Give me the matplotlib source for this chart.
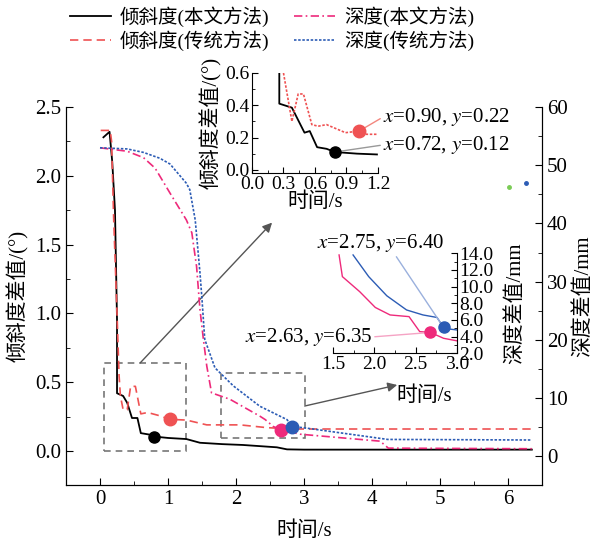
import matplotlib
matplotlib.use('Agg')
import matplotlib.pyplot as plt
from matplotlib.patches import Rectangle
from matplotlib.ticker import MultipleLocator, FormatStrFormatter

plt.rcParams['font.family'] = ['Liberation Serif', 'Noto Sans CJK SC', 'DejaVu Sans']
plt.rcParams['mathtext.fontset'] = 'stix'
plt.rcParams['axes.unicode_minus'] = False
plt.rcParams['font.size'] = 14

# 主图数据：倾斜度（左轴）
t_black = [0.05, 0.14, 0.18, 0.22, 0.25, 0.25, 0.34, 0.40, 0.47, 0.55, 0.60, 0.72, 0.80,
           1.00, 1.27, 1.47, 1.80, 2.10, 2.60, 2.75, 3.00, 6.35]
v_black = [2.28, 2.32, 2.10, 1.75, 0.95, 0.42, 0.40, 0.35, 0.24, 0.24, 0.13, 0.12, 0.105,
           0.095, 0.087, 0.06, 0.05, 0.044, 0.027, 0.012, 0.01, 0.01]
t_red = [0.01, 0.15, 0.17, 0.20, 0.25, 0.28, 0.30, 0.34, 0.40, 0.45, 0.52, 0.60, 0.70,
         0.85, 1.03, 1.27, 1.57, 2.06, 2.45, 2.84, 6.35]
v_red = [2.33, 2.33, 2.25, 1.70, 1.00, 0.55, 0.40, 0.30, 0.30, 0.47, 0.47, 0.27, 0.28,
         0.26, 0.23, 0.225, 0.19, 0.19, 0.17, 0.16, 0.16]

# 主图数据：深度（右轴）
t_pink = [0.0, 0.40, 0.64, 0.81, 1.03, 1.27, 1.35, 1.42, 1.47, 1.52, 1.57, 1.64, 1.91,
          2.35, 2.43, 2.55, 2.66, 2.94, 4.12, 4.24, 6.35]
v_pink = [53.0, 52.4, 51.3, 49.5, 45.2, 40.6, 38.4, 32.6, 25.2, 20.1, 15.5, 10.9, 9.8,
          6.9, 6.3, 5.1, 4.6, 3.8, 2.6, 1.4, 1.3]
t_blue = [0.0, 0.40, 0.64, 0.88, 1.03, 1.27, 1.32, 1.40, 1.47, 1.50, 1.54, 1.69, 1.96,
          2.35, 2.75, 2.83, 3.0, 4.23, 6.35]
v_blue = [53.0, 52.8, 52.2, 51.2, 50.2, 46.9, 45.8, 40.6, 31.5, 26.9, 20.1, 15.2, 12.1,
          8.6, 6.3, 5.1, 4.9, 2.9, 2.8]

# 标记点
mk_black = (0.80, 0.105)
mk_red = (1.03, 0.23)
mk_pink = (2.66, 4.6)
mk_blue = (2.83, 5.1)

# 局部放大图1（倾斜度）
t1_black = [0.26, 0.26, 0.38, 0.50, 0.55, 0.62, 0.71, 0.79, 1.00, 1.19]
v1_black = [0.60, 0.41, 0.385, 0.23, 0.24, 0.14, 0.13, 0.11, 0.10, 0.095]
t1_red = [0.30, 0.38, 0.44, 0.49, 0.57, 0.63, 0.71, 0.89, 1.02, 1.09, 1.19]
v1_red = [0.60, 0.30, 0.47, 0.47, 0.28, 0.27, 0.28, 0.23, 0.24, 0.22, 0.22]

# 局部放大图2（深度）
t2_pink = [1.57, 1.61, 1.82, 2.01, 2.19, 2.42, 2.55, 2.68, 2.84, 3.0]
v2_pink = [13.8, 11.2, 9.4, 7.5, 6.6, 6.4, 4.6, 4.5, 3.8, 3.5]
t2_blue = [1.74, 1.93, 2.15, 2.39, 2.59, 2.76, 2.84, 2.92, 3.0]
v2_blue = [13.8, 11.2, 8.9, 7.2, 6.6, 6.3, 5.1, 4.9, 4.8]

c_black = '#000000'
c_red = '#EF5253'
c_pink = '#EE2A7B'
c_blue = '#2C5CB5'

fig = plt.figure(figsize=(5.98, 5.48), dpi=100)
ax = fig.add_axes([0.1104, 0.1142, 0.796, 0.6905])
ax2 = ax.twinx()

l1, = ax.plot(t_black, v_black, color=c_black, lw=1.3, label='倾斜度(本文方法)')
l2, = ax.plot(t_red, v_red, color=c_red, lw=1.2, ls=(0, (5, 3)), label='倾斜度(传统方法)')
l3, = ax2.plot(t_pink, v_pink, color=c_pink, lw=1.2, ls=(0, (5, 2, 1, 2)), label='深度(本文方法)')
l4, = ax2.plot(t_blue, v_blue, color=c_blue, lw=1.2, ls=(0, (1.5, 1)), label='深度(传统方法)')

ax.plot(*mk_black, 'o', color=c_black, ms=8, zorder=5)
ax.plot(*mk_red, 'o', color=c_red, ms=9, zorder=5)
ax2.plot(*mk_pink, 'o', color=c_pink, ms=9, zorder=5)
ax2.plot(*mk_blue, 'o', color=c_blue, ms=9, zorder=5)
ax2.plot(6.01, 46.3, 'o', color='#7ACC55', ms=2.5)
ax2.plot(6.26, 46.9, 'o', color=c_blue, ms=2.5)

ax.set_xlim(-0.5, 6.5)
ax.set_ylim(-0.25, 2.5)
ax2.set_ylim(-5, 60)
ax.xaxis.set_major_locator(MultipleLocator(1))
ax.xaxis.set_minor_locator(MultipleLocator(0.5))
ax.yaxis.set_major_locator(MultipleLocator(0.5))
ax.yaxis.set_minor_locator(MultipleLocator(0.25))
ax.yaxis.set_major_formatter(FormatStrFormatter('%.1f'))
ax2.yaxis.set_major_locator(MultipleLocator(10))
ax2.yaxis.set_minor_locator(MultipleLocator(5))
for a in (ax, ax2):
    a.spines['top'].set_visible(False)
    a.tick_params(which='both', direction='in', labelsize=15)
    a.tick_params(which='major', length=5)
    a.tick_params(which='minor', length=3)
ax.set_xlabel('时间/s', fontsize=15, labelpad=9)
ax.set_ylabel('倾斜度差值/(°)', fontsize=15)
ax2.set_ylabel('深度差值/mm', fontsize=15)

# 虚线框与箭头
ax.add_patch(Rectangle((0.06, 0.0), 1.20, 0.64, fill=False, ec='#777777', lw=1.2, ls=(0, (4, 3))))
ax.add_patch(Rectangle((1.78, 0.092), 1.23, 0.473, fill=False, ec='#777777', lw=1.2, ls=(0, (4, 3))))
ax.annotate('', xy=(2.53, 1.66), xytext=(0.59, 0.64),
            arrowprops=dict(arrowstyle='-|>', color='#555555', lw=1.0, mutation_scale=14,
                            shrinkA=0, shrinkB=0))
ax.annotate('', xy=(4.37, 0.48), xytext=(3.01, 0.327),
            arrowprops=dict(arrowstyle='-|>', color='#555555', lw=1.0, mutation_scale=14,
                            shrinkA=0, shrinkB=0))

fig.legend(handles=[l1, l2, l3, l4], ncol=2, loc='upper left',
           bbox_to_anchor=(0.117, 0.988), frameon=False, fontsize=14,
           handlelength=2.1, handletextpad=0.45, columnspacing=1.3,
           labelspacing=0.15, borderpad=0, borderaxespad=0)

# 放大图1
ia = fig.add_axes([0.4214, 0.6843, 0.2107, 0.1825], facecolor='none')
ia.plot(t1_black, v1_black, color=c_black, lw=1.3)
ia.plot(t1_red, v1_red, color=c_red, lw=1.2, ls=(0, (1.5, 1)))
ia.plot(0.79, 0.11, 'o', color=c_black, ms=8, zorder=5)
ia.plot(1.02, 0.24, 'o', color=c_red, ms=9, zorder=5)
ia.set_xlim(0, 1.2)
ia.set_ylim(-0.02, 0.6)
ia.xaxis.set_major_locator(MultipleLocator(0.3))
ia.xaxis.set_minor_locator(MultipleLocator(0.15))
ia.yaxis.set_major_locator(MultipleLocator(0.2))
ia.yaxis.set_minor_locator(MultipleLocator(0.1))
ia.xaxis.set_major_formatter(FormatStrFormatter('%.1f'))
ia.yaxis.set_major_formatter(FormatStrFormatter('%.1f'))
ia.spines['top'].set_visible(False)
ia.spines['right'].set_visible(False)
ia.tick_params(which='both', direction='in', labelsize=14, pad=2)
ia.tick_params(which='major', length=4)
ia.tick_params(which='minor', length=2)
ia.set_xlabel('时间/s', fontsize=15, labelpad=0)
ia.set_ylabel('倾斜度差值/(°)', fontsize=15, labelpad=2)
ia.annotate('$x$=0.90, $y$=0.22', xy=(1.02, 0.24), xytext=(1.248, 0.327),
            ha='left', va='center', fontsize=15, annotation_clip=False,
            arrowprops=dict(arrowstyle='-', color='#F3877F', lw=1.0, relpos=(0, 0.5),
                            shrinkA=0, shrinkB=0))
ia.annotate('$x$=0.72, $y$=0.12', xy=(0.79, 0.11), xytext=(1.248, 0.154),
            ha='left', va='center', fontsize=15, annotation_clip=False,
            arrowprops=dict(arrowstyle='-', color='#999999', lw=1.0, relpos=(0, 0.5),
                            shrinkA=0, shrinkB=0))

# 放大图2
ib = fig.add_axes([0.5574, 0.3553, 0.2064, 0.1825], facecolor='none')
ib.plot(t2_pink, v2_pink, color=c_pink, lw=1.0)
ib.plot(t2_blue, v2_blue, color=c_blue, lw=1.0)
ib.plot(2.68, 4.5, 'o', color=c_pink, ms=8, zorder=5)
ib.plot(2.84, 5.1, 'o', color=c_blue, ms=8, zorder=5)
ib.set_xlim(1.5, 3.0)
ib.set_ylim(2, 14)
ib.xaxis.set_major_locator(MultipleLocator(0.5))
ib.xaxis.set_minor_locator(MultipleLocator(0.25))
ib.yaxis.set_major_locator(MultipleLocator(2))
ib.yaxis.set_minor_locator(MultipleLocator(1))
ib.xaxis.set_major_formatter(FormatStrFormatter('%.1f'))
ib.yaxis.set_major_formatter(FormatStrFormatter('%.1f'))
ib.yaxis.tick_right()
ib.yaxis.set_label_position('right')
ib.spines['top'].set_visible(False)
ib.spines['left'].set_visible(False)
ib.tick_params(which='both', direction='in', labelsize=14, pad=2)
ib.tick_params(which='major', length=4)
ib.tick_params(which='minor', length=2)
ib.set_xlabel('时间/s', fontsize=15)
ib.xaxis.set_label_coords(0.735, -0.33)
ib.set_ylabel('深度差值/mm', fontsize=15, labelpad=8)
ib.annotate('$x$=2.75, $y$=6.40', xy=(2.84, 5.1), xytext=(1.30, 15.24),
            ha='left', va='center', fontsize=15, annotation_clip=False,
            arrowprops=dict(arrowstyle='-', color='#9AB0DD', lw=1.0, relpos=(0.61, 0),
                            shrinkA=0, shrinkB=0))
ib.annotate('$x$=2.63, $y$=6.35', xy=(2.68, 4.5), xytext=(1.97, 3.96),
            ha='right', va='center', fontsize=15, annotation_clip=False,
            arrowprops=dict(arrowstyle='-', color='#F5A3C4', lw=1.0, relpos=(1, 0.5),
                            shrinkA=0, shrinkB=0))

fig.savefig('out.png', dpi=100, facecolor='white')
